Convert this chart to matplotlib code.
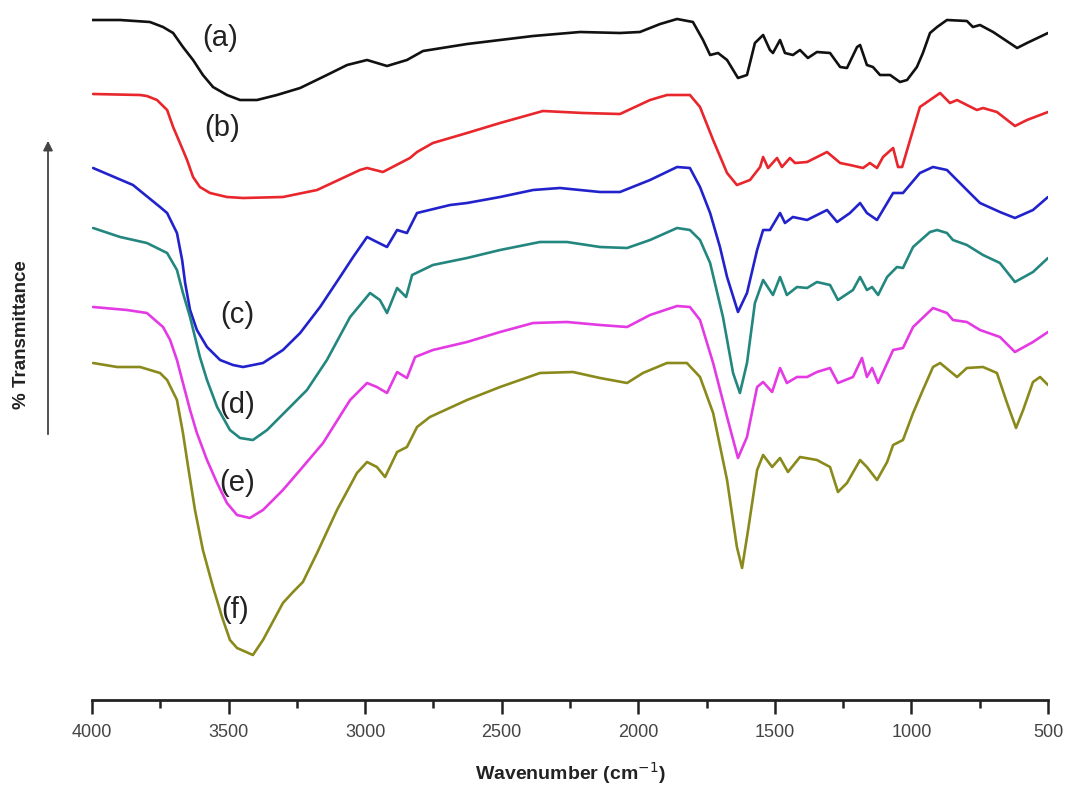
import matplotlib
matplotlib.use("Agg")
import matplotlib.pyplot as plt

plt.rcParams['font.family'] = ['Liberation Sans', 'DejaVu Sans']

# ---- data (wavenumber cm^-1, arbitrary % transmittance, offset traces) ----
wn_a = [4000, 3897, 3788, 3740, 3703, 3667, 3630, 3594, 3557, 3506, 3458, 3396, 3323, 3238, 3140,
        3066, 2993, 2920, 2847,
        2788, 2627, 2385, 2213, 2067, 1994, 1920, 1858, 1800, 1763, 1737, 1708, 1675, 1635, 1602,
        1573, 1543, 1518, 1507, 1481, 1463, 1434, 1408, 1379, 1346, 1298, 1261, 1236, 1199, 1188,
        1163, 1141, 1115, 1078, 1042, 1016, 980, 958, 932, 906, 870, 797, 775, 749, 701, 613, 577, 500]
t_a = [68.0, 68.0, 67.8, 67.3, 66.7, 65.3, 64.0, 62.5, 61.3, 60.5, 60.0, 60.0, 60.5, 61.2, 62.5,
       63.5, 64.0, 63.4, 64.0,
       64.9, 65.6, 66.4, 66.8, 66.7, 66.8, 67.6, 68.1, 67.8, 66.0, 64.5, 64.7, 64.0, 62.2, 62.5,
       65.7, 66.5, 65.0, 64.7, 66.0, 64.7, 64.5, 65.0, 64.2, 64.8, 64.7, 63.3, 63.2, 65.3, 65.5,
       63.5, 63.3, 62.5, 62.5, 61.8, 62.0, 63.3, 64.7, 66.7, 67.3, 68.0, 67.9, 67.3, 67.5, 66.8, 65.2, 65.7, 66.7]

wn_b = [3996, 3824, 3799, 3762, 3725, 3703, 3678, 3652, 3630, 3605, 3568, 3506, 3447, 3301, 3176,
        3019, 2993, 2935, 2836, 2810,
        2752, 2627, 2506, 2349, 2202, 2067, 1957, 1895, 1811, 1774, 1726, 1675, 1639, 1591, 1554,
        1543, 1525, 1492, 1474, 1445, 1426, 1382, 1309, 1261, 1225, 1177, 1152, 1126, 1104, 1067,
        1049, 1034, 1005, 969, 932, 895, 859, 833, 797, 760, 738, 687, 621, 577, 500]
t_b = [60.6, 60.5, 60.4, 60.0, 59.0, 57.3, 55.7, 54.0, 52.3, 51.3, 50.7, 50.3, 50.2, 50.3, 51.0,
       53.0, 53.2, 52.8, 54.2, 54.8,
       55.7, 56.7, 57.7, 58.9, 58.7, 58.6, 60.0, 60.5, 60.5, 59.3, 56.0, 52.7, 51.5, 52.0, 53.3,
       54.3, 53.2, 54.2, 53.3, 54.2, 53.7, 53.8, 54.8, 53.7, 53.5, 53.2, 53.7, 53.2, 54.3, 55.2,
       53.3, 53.3, 56.0, 59.3, 60.0, 60.7, 59.7, 60.0, 59.5, 59.0, 59.2, 58.8, 57.4, 58.0, 58.8]

wn_c = [3996, 3850, 3751, 3725, 3689, 3670, 3659, 3641, 3616, 3579, 3531, 3484, 3447, 3374, 3301,
        3238, 3165, 3092, 3044, 2993,
        2957, 2920, 2883, 2847, 2810, 2689, 2627, 2506, 2385, 2287, 2140, 2067, 1957, 1858, 1811,
        1774, 1737, 1701, 1675, 1635, 1602, 1565, 1543, 1518, 1481, 1463, 1434, 1382, 1309, 1272,
        1225, 1188, 1163, 1126, 1067, 1031, 969, 921, 870, 797, 749, 676, 621, 555, 500]
t_c = [53.2, 51.5, 49.3, 48.7, 46.7, 44.0, 41.7, 39.0, 37.0, 35.3, 34.0, 33.5, 33.3, 33.7, 35.0,
       36.7, 39.3, 42.3, 44.3, 46.3,
       45.8, 45.3, 47.0, 46.7, 48.7, 49.5, 49.7, 50.3, 51.0, 51.2, 50.8, 50.8, 52.0, 53.3, 53.2,
       51.3, 48.7, 45.3, 42.3, 38.8, 40.7, 45.0, 47.0, 47.0, 48.7, 47.7, 48.3, 48.0, 49.0, 47.8,
       48.7, 49.7, 48.7, 48.0, 50.7, 50.7, 52.7, 53.3, 53.0, 51.0, 49.7, 48.8, 48.2, 49.0, 50.3]

wn_d = [3996, 3897, 3799, 3725, 3689, 3667, 3641, 3605, 3579, 3542, 3495, 3458, 3411, 3359, 3275,
        3213, 3140, 3055,
        2982, 2946, 2920, 2883, 2850, 2828, 2752, 2627, 2506, 2360, 2261, 2140, 2041, 1957, 1858,
        1811, 1774, 1737, 1690, 1653, 1628, 1602, 1573, 1543, 1507, 1481, 1456, 1419, 1382, 1346,
        1298, 1269, 1214, 1188, 1163, 1144, 1122, 1089, 1053, 1031, 994, 932, 906, 870, 848, 797,
        738, 676, 621, 555, 500]
t_d = [47.2, 46.3, 45.7, 44.7, 43.0, 40.7, 38.3, 34.3, 32.0, 29.3, 27.0, 26.2, 26.0, 27.0, 29.3,
       31.0, 34.0, 38.3,
       40.7, 40.0, 38.7, 41.2, 40.3, 42.5, 43.5, 44.2, 45.0, 45.8, 45.8, 45.3, 45.2, 46.0, 47.2,
       47.0, 46.0, 43.7, 38.3, 32.7, 30.7, 33.7, 39.7, 42.0, 40.5, 42.3, 40.5, 41.3, 41.2, 41.8,
       41.5, 40.0, 41.0, 42.3, 41.0, 41.3, 40.5, 42.3, 43.3, 43.2, 45.3, 46.8, 47.0, 46.7, 46.0, 45.5,
       44.5, 43.7, 41.8, 42.8, 44.2]

wn_e = [3996, 3872, 3799, 3740, 3714, 3689, 3667, 3641, 3616, 3579, 3542, 3506, 3469, 3422, 3374,
        3301, 3238, 3154, 3055,
        2993, 2957, 2920, 2883, 2847, 2817, 2752, 2627, 2506, 2385, 2261, 2140, 2041, 1957, 1858,
        1811, 1774, 1726, 1675, 1635, 1602, 1565, 1543, 1510, 1481, 1456, 1419, 1382, 1346, 1298,
        1269, 1214, 1181, 1163, 1144, 1122, 1067, 1031, 994, 921, 870, 848, 797, 749, 676, 621, 555, 500]
t_e = [39.3, 39.0, 38.7, 37.3, 36.0, 34.0, 31.7, 29.0, 26.7, 24.0, 21.7, 19.7, 18.5, 18.2, 19.0,
       21.0, 23.0, 25.7, 30.0,
       31.7, 31.3, 30.7, 32.8, 32.2, 34.3, 35.0, 35.8, 36.8, 37.7, 37.8, 37.5, 37.3, 38.5, 39.4,
       39.3, 38.0, 33.7, 28.3, 24.2, 26.3, 31.3, 31.8, 30.8, 33.2, 31.7, 32.3, 32.3, 32.8, 33.2,
       31.7, 32.3, 34.2, 32.3, 33.2, 31.7, 35.0, 35.2, 37.3, 39.2, 38.7, 38.0, 37.8, 37.0, 36.3, 34.8, 35.8, 36.8]

wn_f = [3996, 3908, 3824, 3751, 3725, 3689, 3667, 3648, 3623, 3594, 3557, 3524, 3495, 3469, 3411,
        3374, 3301, 3264,
        3228, 3176, 3103, 3030, 2993, 2957, 2927, 2883, 2847, 2810, 2763, 2627, 2506, 2360, 2239,
        2140, 2041, 1983, 1895, 1822, 1774, 1726, 1675, 1639, 1620, 1598, 1565, 1543, 1510, 1481,
        1452, 1408, 1346, 1298, 1269, 1236, 1188, 1163, 1126, 1089, 1067, 1031, 994, 958, 921, 895,
        833, 797, 738, 687, 650, 617, 591, 555, 529, 500]
t_f = [33.7, 33.3, 33.3, 32.7, 32.0, 30.0, 26.7, 23.3, 19.0, 15.0, 11.3, 8.3, 6.0, 5.2, 4.5,
       6.0, 9.7, 10.8,
       11.8, 14.7, 19.0, 22.7, 23.8, 23.3, 22.3, 24.8, 25.3, 27.3, 28.3, 30.0, 31.3, 32.7, 32.8,
       32.2, 31.7, 32.7, 33.7, 33.7, 32.3, 28.7, 22.0, 15.3, 13.2, 17.0, 23.0, 24.5, 23.3, 24.2,
       22.8, 24.3, 24.0, 23.3, 20.8, 21.7, 24.0, 23.3, 22.0, 23.8, 25.5, 26.0, 28.7, 31.0, 33.3, 33.7,
       32.3, 33.2, 33.3, 32.7, 29.7, 27.2, 29.0, 31.8, 32.3, 31.5]

series_labels = ['(a)', '(b)', '(c)', '(d)', '(e)', '(f)']
label_wn = [3531, 3524, 3469, 3469, 3469, 3476]
label_t = [66.2, 57.2, 38.5, 29.5, 21.7, 9.0]
colors = ['#111111', '#e8262c', '#2222cc', '#23877f', '#e43ae4', '#8a8a1c']

x_ticks = [4000, 3500, 3000, 2500, 2000, 1500, 1000, 500]
x_minor = [3750, 3250, 2750, 2250, 1750, 1250, 750]

# ---- figure ----
fig = plt.figure(figsize=(10.66, 7.85), dpi=100)
ax = fig.add_axes([92 / 1066, 85 / 785, 956 / 1066, 700 / 785])

all_wn = [wn_a, wn_b, wn_c, wn_d, wn_e, wn_f]
all_t = [t_a, t_b, t_c, t_d, t_e, t_f]
for w, t, c in zip(all_wn, all_t, colors):
    ax.plot(w, t, color=c, lw=1.9, solid_joinstyle='round', solid_capstyle='round')

for lab, lw_, lt in zip(series_labels, label_wn, label_t):
    ax.text(lw_, lt, lab, fontsize=21, ha='center', va='center', color='#222222')

ax.set_xlim(4000, 500)
ax.set_ylim(0, 70)
for s in ['top', 'left', 'right']:
    ax.spines[s].set_visible(False)
ax.spines['bottom'].set_linewidth(2.0)
ax.spines['bottom'].set_color('#222222')
ax.set_yticks([])
ax.set_xticks(x_ticks)
ax.set_xticks(x_minor, minor=True)
ax.set_xticklabels([str(v) for v in x_ticks])
ax.tick_params(axis='x', which='major', length=10, width=1.8, color='#222222',
               labelsize=13, labelcolor='#444444', pad=7)
ax.tick_params(axis='x', which='minor', length=6, width=1.8, color='#222222')

fig.text(570 / 1066, 1 - 773 / 785, 'Wavenumber (cm$^{-1}$)', ha='center', va='center',
         fontsize=14, fontweight='bold', color='#222222')
fig.text(22 / 1066, 1 - 335 / 785, '% Transmittance', rotation=90, ha='center', va='center',
         fontsize=13.5, fontweight='bold', color='#222222')
fig.patches.append(matplotlib.patches.FancyArrowPatch(
    (48 / 1066, 1 - 437 / 785), (48 / 1066, 1 - 138 / 785), transform=fig.transFigure,
    arrowstyle='-|>', mutation_scale=14, lw=1.3, color='#444444'))

fig.savefig('out.png', dpi=100)
